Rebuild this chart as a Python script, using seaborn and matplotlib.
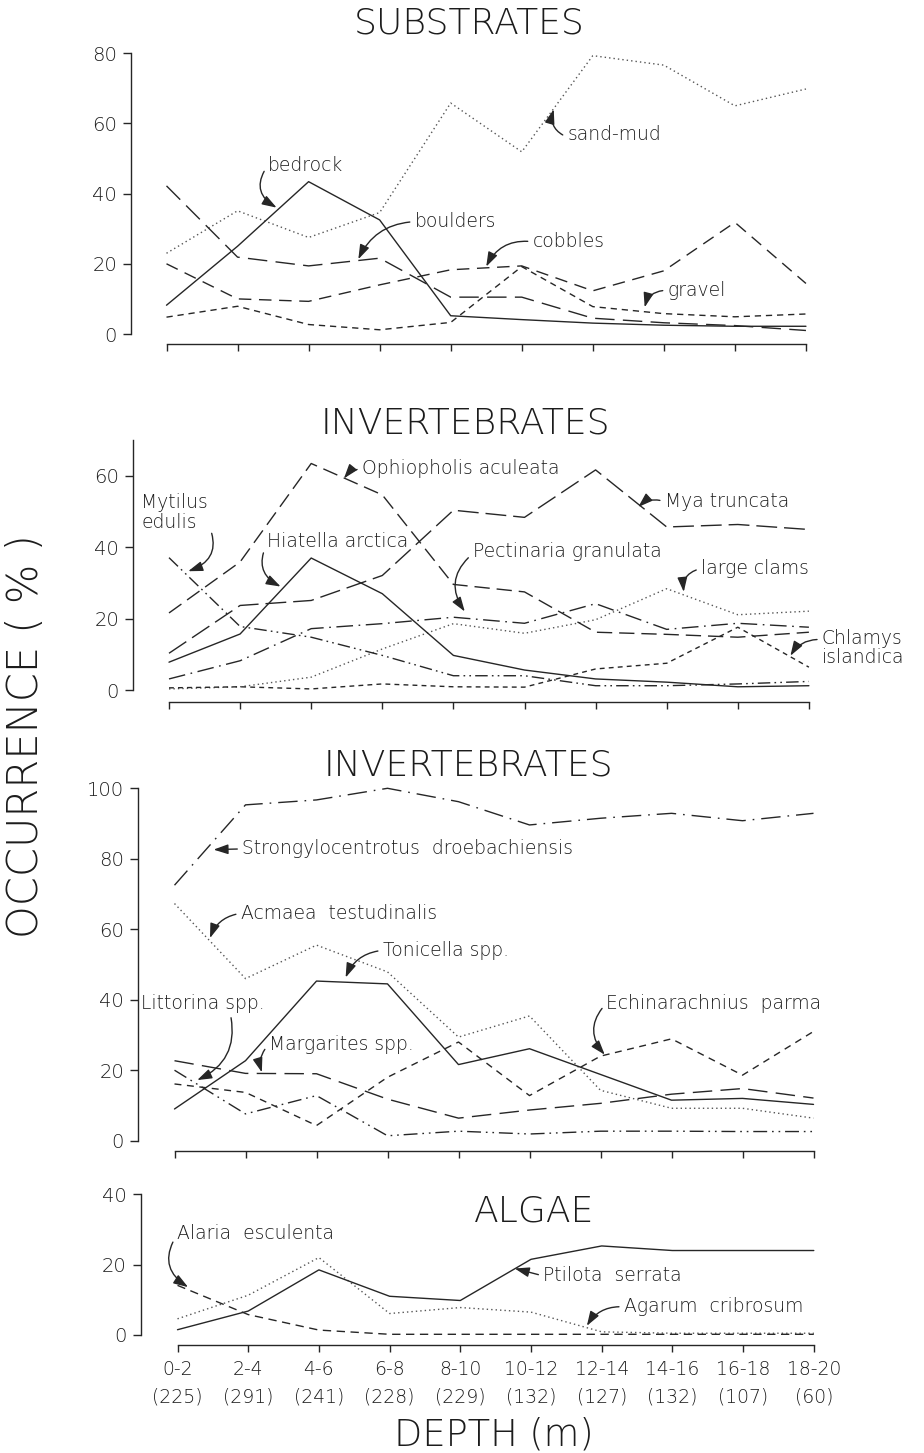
import matplotlib
matplotlib.use("Agg")
import matplotlib.pyplot as plt
from matplotlib import font_manager
import seaborn as sns

# ---- depth classes and number of samples per class ----
depth_bins = ["0-2", "2-4", "4-6", "6-8", "8-10", "10-12", "12-14", "14-16", "16-18", "18-20"]
sample_counts = [225, 291, 241, 228, 229, 132, 127, 132, 107, 60]
positions = list(range(len(depth_bins)))

# ---- substrates (% occurrence) ----
bedrock = [8.2, 25.0, 43.4, 32.5, 5.2, 4.1, 3.1, 2.5, 2.2, 2.2]
sand_mud = [23.0, 35.1, 27.5, 34.6, 65.8, 51.9, 79.3, 76.6, 65.0, 69.8]
boulders = [42.2, 21.9, 19.4, 21.6, 10.5, 10.5, 4.5, 3.2, 2.4, 1.0]
cobbles = [20.0, 10.0, 9.3, 14.0, 18.3, 19.4, 12.3, 18.0, 31.8, 14.4]
gravel = [4.8, 7.9, 2.7, 1.2, 3.3, 19.2, 7.8, 5.8, 4.9, 5.7]

# ---- invertebrates, first group ----
ophiopholis = [21.6, 35.9, 63.5, 54.7, 29.6, 27.5, 16.2, 15.6, 14.8, 16.2]
mya_truncata = [10.3, 23.7, 25.1, 32.1, 50.4, 48.4, 61.7, 45.7, 46.4, 45.0]
hiatella = [7.8, 15.7, 37.0, 27.0, 9.7, 5.6, 3.1, 2.2, 0.9, 1.2]
mytilus = [37.1, 17.8, 14.8, 9.7, 4.0, 4.0, 1.2, 1.2, 1.7, 2.4]
pectinaria = [3.1, 8.2, 17.2, 18.6, 20.4, 18.7, 24.2, 17.0, 18.7, 17.6]
large_clams = [0.3, 0.9, 3.6, 11.5, 18.6, 15.9, 19.7, 28.4, 21.1, 22.1]
chlamys = [0.6, 0.9, 0.3, 1.7, 0.9, 0.8, 5.9, 7.5, 17.6, 6.4]

# ---- invertebrates, second group ----
strongylocentrotus = [72.5, 95.3, 96.7, 100.0, 96.2, 89.6, 91.5, 92.9, 90.8, 92.9]
acmaea = [67.3, 46.0, 55.5, 47.9, 29.4, 35.4, 14.3, 9.2, 9.2, 6.4]
tonicella = [9.0, 22.7, 45.3, 44.5, 21.6, 26.1, 18.8, 11.5, 12.0, 10.3]
echinarachnius = [16.1, 13.7, 4.3, 18.0, 28.0, 12.8, 24.0, 28.9, 18.6, 31.0]
margarites = [22.7, 19.1, 19.0, 11.8, 6.4, 8.7, 10.6, 13.2, 14.8, 12.1]
littorina = [20.0, 7.6, 12.8, 1.4, 2.7, 1.9, 2.7, 2.7, 2.6, 2.6]

# ---- algae ----
ptilota = [1.5, 6.8, 18.5, 11.0, 9.8, 21.5, 25.3, 24.0, 24.0, 24.0]
agarum = [4.6, 11.3, 22.0, 6.1, 7.8, 6.5, 0.9, 0.5, 0.5, 0.5]
alaria = [14.1, 5.8, 1.4, 0.2, 0.2, 0.2, 0.2, 0.2, 0.2, 0.2]

# ---------------------------------------------------------------------------
sns.set_style("ticks")
plt.rcParams["lines.scale_dashes"] = False


def pick_family():
    """Prefer a light sans face for the pen-lettered look."""
    for fam, weight in [("DejaVu Sans", 200), ("Lato", 300), ("Roboto", 300), ("Open Sans", 300)]:
        try:
            path = font_manager.findfont(
                font_manager.FontProperties(family=fam, weight=weight),
                fallback_to_default=False)
        except Exception:
            continue
        low = path.lower()
        if "light" in low or "thin" in low:
            return fam, weight
    return "DejaVu Sans", "normal"


FAMILY, WEIGHT = pick_family()
plt.rcParams["font.family"] = [FAMILY, "DejaVu Sans"]
plt.rcParams["font.weight"] = WEIGHT

INK = "#262626"
TXT = "#1c1c1c"
W, H = 924, 1453
fig = plt.figure(figsize=(W / 100, H / 100), dpi=100)
fig.patch.set_facecolor("white")

SOLID = "-"
DOTTED = (0, (1.0, 2.2))


def make_panel(spine_px, x0_px, step_px, zero_px, ymax, unit_px, offset_px, yticks, last=False):
    top_px = zero_px - ymax * unit_px
    right_px = x0_px + 9 * step_px
    ax = fig.add_axes([spine_px / W, 1 - zero_px / H,
                       (right_px - spine_px) / W, (zero_px - top_px) / H])
    ax.set_xlim(-(x0_px - spine_px) / step_px, 9)
    ax.set_ylim(0, ymax)
    ax.set_facecolor("none")
    for side in ("top", "right"):
        ax.spines[side].set_visible(False)
    for side in ("left", "bottom"):
        ax.spines[side].set_color(INK)
        ax.spines[side].set_linewidth(1.0)
    ax.spines["left"].set_bounds(0, ymax)
    ax.spines["bottom"].set_position(("outward", offset_px * 0.72))
    ax.spines["bottom"].set_bounds(0, 9)
    ax.set_xticks(positions)
    ax.set_yticks(yticks)
    ax.set_yticklabels([str(t) for t in yticks])
    ax.tick_params(axis="y", left=True, direction="out", length=6, width=1.0, color=INK,
                   pad=4, labelsize=14, labelcolor=TXT)
    ax.tick_params(axis="x", bottom=True, direction="out", length=5, width=1.0, color=INK,
                   pad=6, labelsize=13.5, labelcolor=TXT)
    if last:
        ax.set_xticklabels(depth_bins)
    else:
        ax.set_xticklabels([])
    ax.set_xlabel("")
    ax.set_ylabel("")
    ax.grid(False)
    return ax


def draw(ax, values, style, lw=1.0, color=INK):
    sns.lineplot(x=positions, y=values, ax=ax, color=color, linewidth=lw,
                 linestyle=style, clip_on=False, legend=False, errorbar=None)


def label(ax, text, xy, xytext, rad=0.3, relpos=(0, 0.5), ha="left", va="center",
          fs=13.5, linespacing=1.05):
    ax.annotate(text, xy=xy, xytext=xytext, ha=ha, va=va, fontsize=fs, color=TXT,
                linespacing=linespacing, annotation_clip=False,
                arrowprops=dict(arrowstyle="-|>,head_length=0.65,head_width=0.22",
                                color=INK, lw=1.0, shrinkA=1, shrinkB=0,
                                relpos=relpos,
                                connectionstyle=f"arc3,rad={rad}"))


# ---- panel 1: substrates ----
ax1 = make_panel(131, 166.5, 71.05, 334, 80, 3.51, 10, [0, 20, 40, 60, 80])
draw(ax1, sand_mud, DOTTED, lw=1.0, color="#555555")
draw(ax1, bedrock, SOLID)
draw(ax1, boulders, (0, (14, 6)))
draw(ax1, cobbles, (0, (9, 5.5)))
draw(ax1, gravel, (0, (4.5, 3.5)))
label(ax1, "bedrock", (1.55, 36.0), (1.43, 48.1), rad=0.55)
label(ax1, "boulders", (2.70, 21.3), (3.49, 32.0), rad=0.3)
label(ax1, "cobbles", (4.50, 19.2), (5.15, 26.3), rad=0.35)
label(ax1, "gravel", (6.73, 7.6), (7.05, 12.4), rad=0.4)
label(ax1, "sand-mud", (5.45, 64.0), (5.64, 56.9), rad=-0.45, relpos=(0, 0.35))

# ---- panel 2: invertebrates ----
ax2 = make_panel(133, 169, 71.1, 690, 70, 3.567, 11.5, [0, 20, 40, 60])
draw(ax2, large_clams, DOTTED, lw=1.0, color="#555555")
draw(ax2, ophiopholis, (0, (11, 5)))
draw(ax2, mya_truncata, (0, (15, 5)))
draw(ax2, hiatella, SOLID)
draw(ax2, mytilus, (0, (9, 3, 1.2, 3, 1.2, 3)))
draw(ax2, pectinaria, (0, (12, 4, 1.2, 4)))
draw(ax2, chlamys, (0, (3.5, 3)))
label(ax2, "Ophiopholis aculeata", (2.46, 59.3), (2.71, 62.1), rad=0.2)
label(ax2, "Mya truncata", (6.60, 51.3), (6.97, 52.8), rad=0.3)
label(ax2, "Mytilus\nedulis", (0.27, 33.3), (-0.39, 49.7), rad=-0.55, relpos=(1.0, 0.22))
label(ax2, "Hiatella arctica", (1.57, 29.0), (1.38, 41.5), rad=0.5, relpos=(0, 0.4))
label(ax2, "Pectinaria granulata", (4.16, 22.0), (4.27, 38.7), rad=0.45, relpos=(0, 0.4))
label(ax2, "large clams", (7.24, 27.5), (7.48, 34.0), rad=0.45)
label(ax2, "Chlamys\nislandica", (8.74, 9.6), (9.18, 11.75), rad=0.3, relpos=(0, 0.72))

# ---- panel 3: invertebrates ----
ax3 = make_panel(138, 174.5, 71.0, 1140.7, 100, 3.524, 10.3, [0, 20, 40, 60, 80, 100])
draw(ax3, acmaea, DOTTED, lw=1.0, color="#555555")
draw(ax3, strongylocentrotus, (0, (14, 5, 1.2, 5)))
draw(ax3, tonicella, SOLID)
draw(ax3, echinarachnius, (0, (5, 4)))
draw(ax3, margarites, (0, (14, 6)))
draw(ax3, littorina, (0, (10, 3.5, 1.2, 3.5, 1.2, 3.5)))
label(ax3, "Strongylocentrotus  droebachiensis", (0.55, 82.6), (0.95, 82.8), rad=0.0)
label(ax3, "Acmaea  testudinalis", (0.50, 57.5), (0.93, 64.5), rad=0.3)
label(ax3, "Tonicella spp.", (2.41, 46.3), (2.93, 54.0), rad=0.3)
label(ax3, "Littorina spp.", (0.32, 17.2), (-0.47, 38.9), rad=-0.4, relpos=(0.72, 0.0))
label(ax3, "Margarites spp.", (1.23, 19.4), (1.33, 27.3), rad=0.3)
label(ax3, "Echinarachnius  parma", (6.06, 24.4), (6.08, 38.9), rad=0.45)

# ---- panel 4: algae ----
ax4 = make_panel(140.5, 177.5, 70.7, 1335, 40, 3.52, 9.5, [0, 20, 40], last=True)
draw(ax4, agarum, DOTTED, lw=1.0, color="#555555")
draw(ax4, ptilota, SOLID)
draw(ax4, alaria, (0, (6, 4)))
label(ax4, "Alaria  esculenta", (0.15, 13.6), (-0.01, 28.9), rad=0.5, relpos=(0, 0.4))
label(ax4, "Ptilota  serrata", (4.77, 18.9), (5.17, 16.8), rad=0.0)
label(ax4, "Agarum  cribrosum", (5.79, 2.6), (6.31, 8.0), rad=0.3)

# sample sizes beneath the depth classes
for pos, n in zip(positions, sample_counts):
    ax4.annotate(f"({n})", xy=(pos, 0), xycoords=("data", "axes fraction"),
                 xytext=(0, -(1396.7 - 1335) * 0.72), textcoords="offset points",
                 ha="center", va="center", fontsize=13.5, color=TXT)

# ---- panel headings and axis titles ----
def fig_text(x_px, y_px, s, size, **kw):
    fig.text(x_px / W, 1 - y_px / H, s, fontsize=size, color=TXT, **kw)


fig_text(469, 33.5, "SUBSTRATES", 26, ha="center", va="baseline")
fig_text(465, 433.5, "INVERTEBRATES", 26, ha="center", va="baseline")
fig_text(468, 775, "INVERTEBRATES", 26, ha="center", va="baseline")
fig_text(534, 1222, "ALGAE", 26, ha="center", va="baseline")
fig_text(494, 1445, "DEPTH (m)", 26.5, ha="center", va="baseline")
fig_text(26, 736, "OCCURRENCE ( % )", 30, ha="center", va="center", rotation=90)

fig.savefig("out.png", dpi=100, facecolor="white")
